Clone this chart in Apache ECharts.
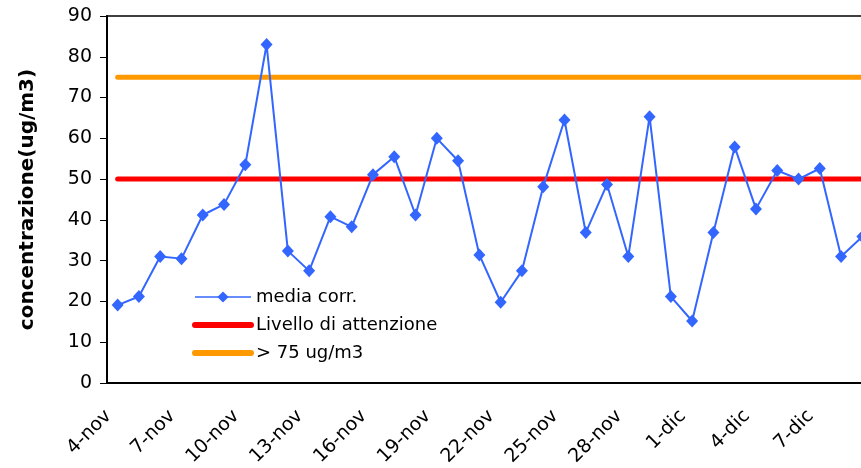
<!DOCTYPE html>
<html><head><meta charset="utf-8">
<script src="https://cdn.jsdelivr.net/npm/echarts@6/dist/echarts.min.js"></script>
<style>html,body{margin:0;padding:0;background:#fff}#c{width:861px;height:468px}</style>
</head><body><div id="c"></div>
<script>
const categories = ['4-nov','5-nov','6-nov','7-nov','8-nov','9-nov','10-nov','11-nov','12-nov','13-nov','14-nov','15-nov','16-nov','17-nov','18-nov','19-nov','20-nov','21-nov','22-nov','23-nov','24-nov','25-nov','26-nov','27-nov','28-nov','29-nov','30-nov','1-dic','2-dic','3-dic','4-dic','5-dic','6-dic','7-dic','8-dic','9-dic'];
const mediaCorr = [19.1,21.2,31.0,30.5,41.2,43.8,53.5,83.0,32.4,27.5,40.8,38.3,51.1,55.5,41.2,60.0,54.5,31.4,19.8,27.5,48.1,64.5,36.9,48.7,31.0,65.3,21.2,15.2,36.9,57.9,42.7,52.1,50.0,52.6,31.0,35.9];
const attentionLevel = 50;
const upperLevel = 75;
const yTicks = {min:0, max:90, interval:10};

const font = 'DejaVu Sans';
const chart = echarts.init(document.getElementById('c'));
chart.setOption({
  animation:false,
  grid:{left:107, top:16, width:766, bottom:85, outerBoundsMode:'none', containLabel:false,
        show:true, borderColor:'#000', borderWidth:1.5},
  legend:{
    orient:'vertical', left:187, top:283, itemWidth:56, itemHeight:14, itemGap:10,
    textStyle:{fontFamily:font, fontSize:18, color:'#000'},
    data:[
      {name:'media corr.', lineStyle:{width:1.5}},
      {name:'Livello di attenzione', itemStyle:{opacity:0}, lineStyle:{width:6, cap:'round', color:'#FF0000'}},
      {name:'> 75 ug/m3', itemStyle:{opacity:0}, lineStyle:{width:6, cap:'round', color:'#FF9900'}}
    ]
  },
  xAxis:{
    type:'category', data:categories, boundaryGap:true,
    axisLine:{lineStyle:{color:'#000', width:2}},
    axisTick:{interval:2, length:6, lineStyle:{color:'#000', width:1}},
    axisLabel:{interval:2, rotate:45, margin:21, fontFamily:font, fontSize:19, color:'#000', padding:[0,13,0,0]},
    splitLine:{show:false}
  },
  yAxis:{
    type:'value', min:yTicks.min, max:yTicks.max, interval:yTicks.interval,
    name:'concentrazione(ug/m3)', nameLocation:'middle', nameGap:69, nameRotate:90,
    nameTextStyle:{fontFamily:font, fontSize:20, fontWeight:'bold', color:'#000'},
    axisLine:{show:true, lineStyle:{color:'#000', width:2}},
    axisTick:{show:true, length:7, lineStyle:{color:'#000'}},
    axisLabel:{fontFamily:font, fontSize:19, color:'#000', margin:15},
    splitLine:{show:false}
  },
  series:[
    {name:'media corr.', type:'line', data:mediaCorr, z:5,
     symbol:'diamond', symbolSize:[12,13], showAllSymbol:true,
     lineStyle:{color:'#3366FF', width:2}, itemStyle:{color:'#3366FF'}},
    {name:'Livello di attenzione', type:'line', data:categories.map(()=>attentionLevel), z:3,
     showSymbol:false, symbol:'none', lineStyle:{color:'#FF0000', width:5, cap:'round'}, itemStyle:{color:'#FF0000'}},
    {name:'> 75 ug/m3', type:'line', data:categories.map(()=>upperLevel), z:3,
     showSymbol:false, symbol:'none', lineStyle:{color:'#FF9900', width:5, cap:'round'}, itemStyle:{color:'#FF9900'}}
  ]
});
</script></body></html>
